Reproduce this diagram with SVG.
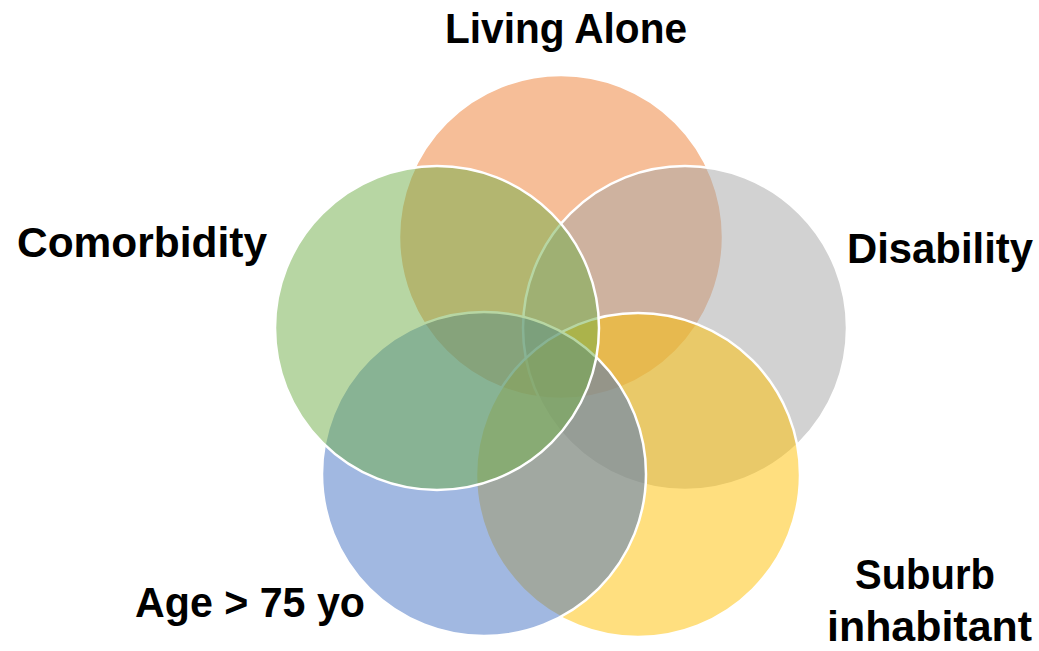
<svg xmlns="http://www.w3.org/2000/svg" width="1039" height="651" viewBox="0 0 1039 651">
<style>
.c{stroke:#FFFFFF;stroke-width:2.5;fill-opacity:0.5}
.t{font-family:"Liberation Sans",Arial,sans-serif;font-weight:bold;font-size:42px;fill:#000000}
</style>
<rect width="1039" height="651" fill="#FFFFFF"/>
<g id="living-alone"><circle class="c" cx="561" cy="237" r="162" fill="#ED7D31"/></g>
<g id="disability"><circle class="c" cx="685" cy="328" r="162" fill="#A5A5A5"/></g>
<g id="suburb"><circle class="c" cx="638" cy="475" r="162" fill="#FFC000"/></g>
<g id="age"><circle class="c" cx="484" cy="474" r="162" fill="#4472C4"/></g>
<g id="comorbidity"><circle class="c" cx="437" cy="328" r="162" fill="#70AD47"/></g>
<g id="labels">
<text class="t" x="445" y="43" textLength="242" lengthAdjust="spacingAndGlyphs">Living Alone</text>
<text class="t" x="17" y="257" textLength="250" lengthAdjust="spacingAndGlyphs">Comorbidity</text>
<text class="t" x="847" y="263" textLength="186" lengthAdjust="spacingAndGlyphs">Disability</text>
<text class="t" x="135" y="617" textLength="230" lengthAdjust="spacingAndGlyphs">Age &gt; 75 yo</text>
<text class="t" x="855" y="589" textLength="140" lengthAdjust="spacingAndGlyphs">Suburb</text>
<text class="t" x="827" y="641" textLength="205" lengthAdjust="spacingAndGlyphs">inhabitant</text>
</g>
</svg>
